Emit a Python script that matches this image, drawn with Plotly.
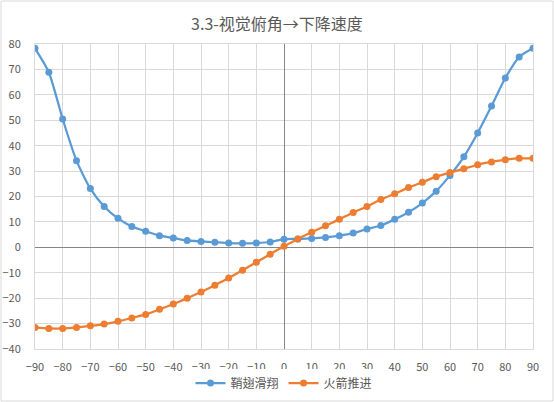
import plotly.graph_objects as go

angles = list(range(-90, 95, 5))

glide = [78.3, 68.9, 50.5, 34.1, 23.1, 16.1, 11.4, 8.2, 6.3, 4.6, 3.7, 2.7, 2.3, 2.0,
         1.7, 1.6, 1.7, 2.1, 3.2, 3.3, 3.5, 3.9, 4.6, 5.6, 7.2, 8.6, 11.0, 13.8, 17.4,
         22.1, 28.3, 35.6, 45.0, 55.6, 66.6, 74.9, 78.3]

rocket = [-31.5, -31.9, -31.9, -31.5, -30.9, -30.2, -29.1, -27.8, -26.4, -24.4, -22.3,
          -20.0, -17.6, -14.9, -12.1, -9.0, -5.9, -2.7, 0.4, 3.3, 5.9, 8.5, 11.0, 13.7,
          16.1, 18.8, 21.1, 23.5, 25.6, 27.8, 29.4, 30.9, 32.5, 33.6, 34.5, 35.0, 35.0]

series = [("鞘翅滑翔", glide, "#5B9BD5"), ("火箭推进", rocket, "#ED7D31")]

W, H = 554, 402
L, R, T, B = 35, 21, 44, 53
font = "Noto Sans CJK SC"

fig = go.Figure()
for name, vals, color in series:
    fig.add_trace(go.Scatter(
        x=angles, y=vals, name=name, mode="lines+markers",
        line=dict(color=color, width=2.25, shape="spline", smoothing=0.6),
        marker=dict(color=color, size=7),
    ))

pw = W - L - R
ph = H - T - B
fig.add_shape(type="rect", xref="paper", yref="paper",
              x0=-(L - 1) / pw, x1=1 + (R - 1) / pw,
              y0=-(B - 1) / ph, y1=1 + (T - 1) / ph,
              line=dict(color="#D9D9D9", width=1), layer="below")

axis = dict(showgrid=True, gridcolor="#D9D9D9", gridwidth=1, zeroline=True,
            zerolinecolor="#868686", zerolinewidth=1,
            showline=True, linecolor="#D9D9D9", mirror=True,
            ticks="", automargin=False,
            tickfont=dict(size=11, color="#595959"))

fig.update_layout(
    width=W, height=H,
    margin=dict(l=L, r=R, t=T, b=B, autoexpand=False),
    paper_bgcolor="white", plot_bgcolor="white",
    font=dict(family=font, size=11, color="#595959"),
    title=dict(text="3.3-视觉俯角→下降速度", x=0.5, xanchor="center",
               y=1 - 24 / H, yanchor="middle",
               font=dict(size=16, color="#595959", family=font)),
    xaxis=dict(axis, range=[-90, 90], tick0=-90, dtick=10, ticklabelstandoff=8),
    yaxis=dict(axis, range=[-40, 80], dtick=10, ticklabelstandoff=11),
    legend=dict(orientation="h", x=0.5, xanchor="center",
                yref="container", y=1 - 383 / H, yanchor="middle",
                font=dict(size=12, color="#595959")),
    showlegend=True,
)

fig.write_html("out.html", config={"displayModeBar": False},
               post_script="document.body.style.margin='0';"
               "document.body.style.overflow='hidden';")
